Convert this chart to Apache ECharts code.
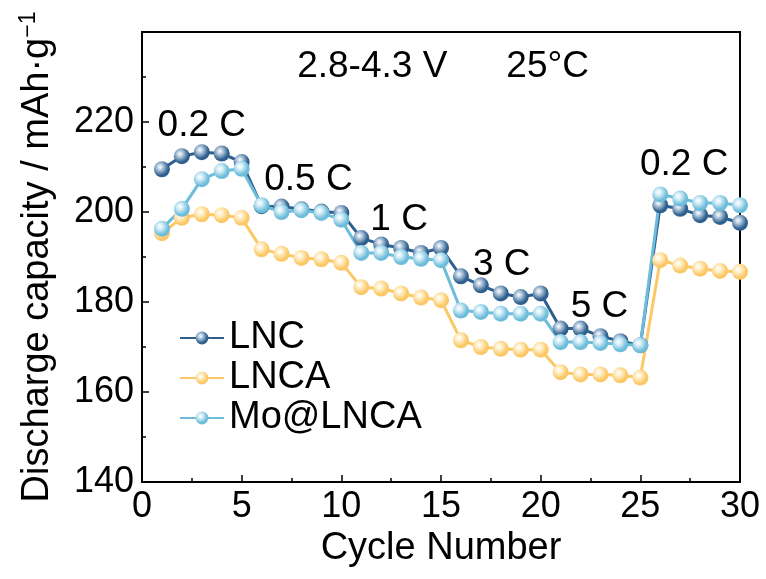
<!DOCTYPE html>
<html>
<head>
<meta charset="utf-8">
<script src="https://cdn.jsdelivr.net/npm/echarts@6/dist/echarts.min.js"></script>
<style>
  html, body { margin: 0; padding: 0; background: #fff; }
  #chart { width: 766px; height: 579px; }
</style>
</head>
<body>
<div id="chart"></div>
<script>
// Rate capability: discharge capacity per cycle at stepped C-rates
const cycles = [1,2,3,4,5,6,7,8,9,10,11,12,13,14,15,16,17,18,19,20,21,22,23,24,25,26,27,28,29,30];

const lnc = [209.5,212.4,213.3,213.0,211.1, 201.3,201.2,200.6,200.1,199.8,
             194.2,192.8,192.0,190.9,192.0, 185.7,183.7,181.9,181.1,181.9,
             174.1,174.1,172.4,171.3,170.4, 201.5,200.7,199.3,198.9,197.6];

const lnca = [195.3,198.7,199.5,199.3,198.7, 191.7,190.7,189.8,189.5,188.7,
              183.3,183.0,181.9,181.0,180.4, 171.5,170.0,169.6,169.4,169.4,
              164.4,163.9,163.9,163.7,163.2, 189.3,188.1,187.4,186.9,186.7];

const moLnca = [196.3,200.7,207.3,209.1,209.6, 201.5,200.0,200.4,199.8,198.3,
                190.9,190.9,190.0,189.6,189.3, 178.1,177.8,177.4,177.4,177.4,
                171.1,171.1,170.9,170.6,170.4, 203.9,203.0,202.0,202.0,201.5];

const seriesNames = ['LNC', 'LNCA', 'Mo@LNCA'];

// Rate labels and test conditions, placed in data coordinates
const noteText = ['0.2 C', '0.5 C', '1 C', '3 C', '5 C', '0.2 C', '2.8-4.3 V', '25°C'];
const noteX    = [3.0, 8.35, 12.9, 18.05, 22.95, 27.2, 11.55, 20.35];
const noteY    = [219.2, 207.1, 198.2, 188.2, 178.9, 210.5, 232.2, 232.2];

const xTicks = { min: 0, max: 30, step: 5 };
const yTicks = { min: 140, max: 240, step: 20 };

const baseColors = ['#2e5f8e', '#fbc865', '#6cbcda'];
const lightColors = ['#b9cde0', '#fff1cf', '#d8eff8'];

function sphere(i) {
  return {
    type: 'radial', x: 0.38, y: 0.36, r: 0.7,
    colorStops: [
      { offset: 0, color: '#ffffff' },
      { offset: 0.25, color: lightColors[i] },
      { offset: 0.75, color: baseColors[i] },
      { offset: 1, color: baseColors[i] }
    ]
  };
}

const fontFamily = 'Liberation Sans, Arial, sans-serif';
const ink = '#000';

function lineSeries(name, values, i) {
  return {
    name: name,
    type: 'line',
    data: cycles.map((c, k) => [c, values[k]]),
    symbol: 'circle',
    symbolSize: 16,
    lineStyle: { color: baseColors[i], width: 3 },
    itemStyle: { color: sphere(i), borderWidth: 0 },
    emphasis: { disabled: true },
    clip: true
  };
}

const chart = echarts.init(document.getElementById('chart'), null, { renderer: 'canvas' });

chart.setOption({
  animation: false,
  backgroundColor: '#ffffff',
  textStyle: { fontFamily: fontFamily },
  grid: {
    left: 142, right: 26, top: 32, bottom: 97,
    show: true, borderColor: ink, borderWidth: 2, backgroundColor: 'transparent'
  },
  legend: {
    data: seriesNames,
    orient: 'vertical',
    left: 174, top: 313,
    itemWidth: 44, itemHeight: 16,
    itemGap: 0,
    textStyle: { fontSize: 38, color: ink, fontFamily: fontFamily, lineHeight: 40 },
    selectedMode: false
  },
  xAxis: {
    type: 'value',
    min: xTicks.min, max: xTicks.max, interval: xTicks.step,
    name: 'Cycle Number', nameLocation: 'middle', nameGap: 48,
    nameTextStyle: { fontSize: 38, color: ink, fontFamily: fontFamily },
    axisLine: { lineStyle: { color: ink, width: 2 } },
    axisTick: { inside: true, length: 7, lineStyle: { color: ink, width: 1.5 } },
    minorTick: { show: true, splitNumber: 2, length: 4, lineStyle: { color: ink, width: 1.5 } },
    axisLabel: { fontSize: 36, color: ink, margin: 7, fontFamily: fontFamily },
    splitLine: { show: false }
  },
  yAxis: {
    type: 'value',
    min: yTicks.min, max: yTicks.max, interval: yTicks.step,
    name: 'Discharge capacity / mAh·g{sup|−1}', nameLocation: 'middle', nameGap: 84,
    nameRotate: 90,
    nameTextStyle: {
      fontSize: 38, color: ink, fontFamily: fontFamily,
      rich: { sup: { fontSize: 23, verticalAlign: 'top', padding: [0, 0, 18, 0], color: ink, fontFamily: fontFamily } }
    },
    axisLine: { lineStyle: { color: ink, width: 2 } },
    axisTick: { inside: true, length: 7, lineStyle: { color: ink, width: 1.5 } },
    minorTick: { show: true, splitNumber: 2, length: 4, lineStyle: { color: ink, width: 1.5 } },
    axisLabel: {
      fontSize: 36, color: ink, margin: 8, fontFamily: fontFamily,
      formatter: v => (v >= yTicks.max ? '' : String(v))
    },
    splitLine: { show: false }
  },
  series: [
    lineSeries('LNCA', lnca, 1),
    lineSeries('LNC', lnc, 0),
    lineSeries('Mo@LNCA', moLnca, 2),
    {
      name: 'notes',
      type: 'scatter',
      symbolSize: 0,
      silent: true,
      z: 10,
      itemStyle: { opacity: 1 },
      data: noteText.map((t, k) => ({ name: t, value: [noteX[k], noteY[k]] })),
      label: {
        show: true, position: 'inside', formatter: p => p.name,
        fontSize: 37, color: ink, fontFamily: fontFamily
      }
    }
  ]
});
</script>
</body>
</html>
